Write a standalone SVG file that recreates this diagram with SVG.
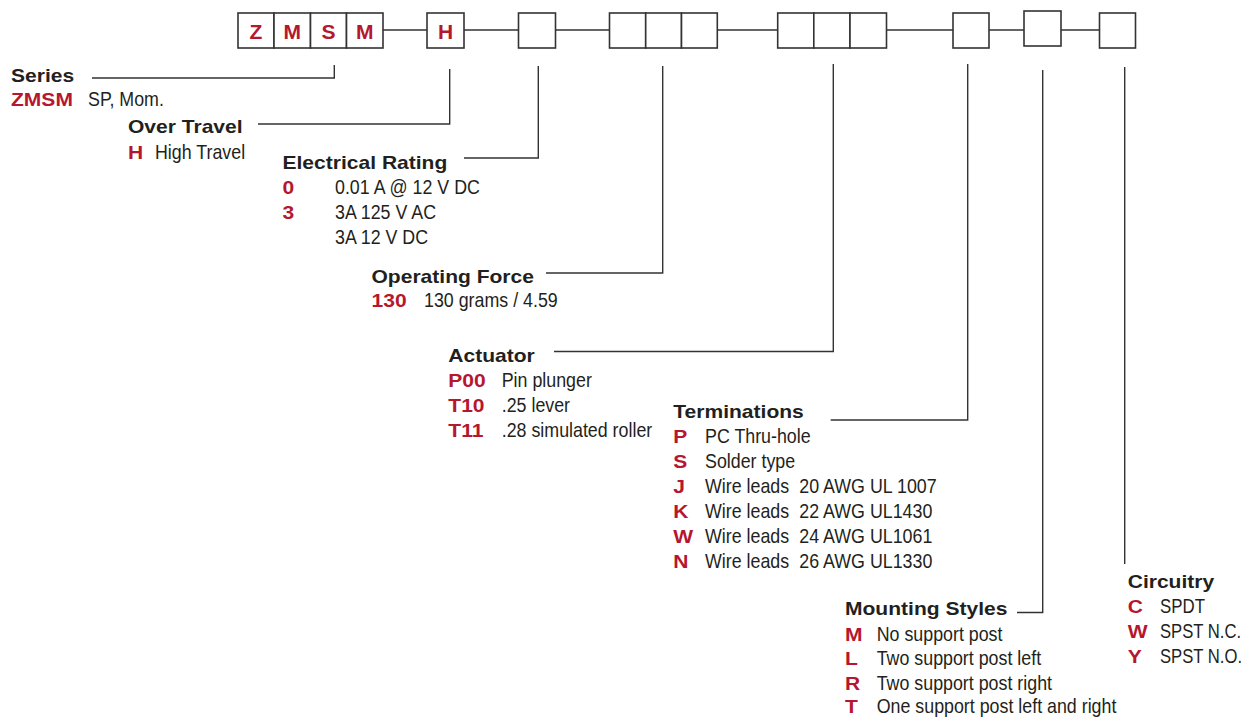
<svg xmlns="http://www.w3.org/2000/svg" width="1241" height="717" viewBox="0 0 1241 717">
<style>
.h{font-family:"Liberation Sans",Arial,sans-serif;font-weight:bold;font-size:18.8px;fill:#231f20}
.c{font-family:"Liberation Sans",Arial,sans-serif;font-weight:bold;font-size:18.8px;fill:#b5172f}
.t{font-family:"Liberation Sans",Arial,sans-serif;font-size:19.6px;fill:#231f20}
.bl{font-family:"Liberation Sans",Arial,sans-serif;font-weight:bold;font-size:21px;fill:#b5172f;text-anchor:middle}
.bx{fill:#fff;stroke:#333;stroke-width:1.6}
.ln{fill:none;stroke:#333;stroke-width:1.4}
</style>
<rect width="1241" height="717" fill="#fff"/>
<g id="connectors">
<path class="ln" d="M383,30H427M464,30H518.5M555.5,30H609.5M717.3,30H777.7M886.5,30H953M989,30H1024M1061,30H1099.5"/>
<path class="ln" d="M92,78H334.3V65"/>
<path class="ln" d="M258,124H449.7V69"/>
<path class="ln" d="M464,158H538.3V66"/>
<path class="ln" d="M546,273H662.7V66"/>
<path class="ln" d="M554,351.5H833.3V64"/>
<path class="ln" d="M830.7,420H967.7V64"/>
<path class="ln" d="M1017,612.5H1042.7V70"/>
<path class="ln" d="M1124.7,67V564"/>
</g>
<g id="box-series">
<rect class="bx" x="238" y="13" width="36" height="35"/>
<rect class="bx" x="274" y="13" width="36.5" height="35"/>
<rect class="bx" x="310.5" y="13" width="36" height="35"/>
<rect class="bx" x="346.5" y="13" width="36.5" height="35"/>
<text class="bl" x="256" y="38.5">Z</text>
<text class="bl" x="292.2" y="38.5">M</text>
<text class="bl" x="328.5" y="38.5">S</text>
<text class="bl" x="364.7" y="38.5">M</text>
</g>
<g id="box-overtravel">
<rect class="bx" x="427" y="13" width="37" height="35"/>
<text class="bl" x="445.5" y="38.5">H</text>
</g>
<g id="box-electrical">
<rect class="bx" x="518.5" y="13" width="37" height="35"/>
</g>
<g id="box-force">
<rect class="bx" x="609.5" y="13" width="36.2" height="35"/>
<rect class="bx" x="645.7" y="13" width="35.8" height="35"/>
<rect class="bx" x="681.5" y="13" width="35.8" height="35"/>
</g>
<g id="box-actuator">
<rect class="bx" x="777.7" y="13" width="36.1" height="35"/>
<rect class="bx" x="813.8" y="13" width="36.2" height="35"/>
<rect class="bx" x="850" y="13" width="36.5" height="35"/>
</g>
<g id="box-terminations">
<rect class="bx" x="953" y="13" width="36" height="35"/>
</g>
<g id="box-mounting">
<rect class="bx" x="1024" y="11" width="37" height="35"/>
</g>
<g id="box-circuitry">
<rect class="bx" x="1099.5" y="13" width="36" height="35"/>
</g>
<g id="legend-series">
<text class="h" transform="translate(11,82) scale(1.12,1)">Series</text>
<text class="c" transform="translate(11,106) scale(1.12,1)">ZMSM</text>
<text class="t" transform="translate(88,106) scale(0.91,1)">SP, Mom.</text>
</g>
<g id="legend-overtravel">
<text class="h" transform="translate(128,133) scale(1.12,1)">Over Travel</text>
<text class="c" transform="translate(128,159) scale(1.12,1)">H</text>
<text class="t" transform="translate(155,159) scale(0.91,1)">High Travel</text>
</g>
<g id="legend-electrical">
<text class="h" transform="translate(282.5,168.5) scale(1.12,1)">Electrical Rating</text>
<text class="c" transform="translate(282.5,194) scale(1.12,1)">0</text>
<text class="t" transform="translate(335,194) scale(0.91,1)">0.01 A @ 12 V DC</text>
<text class="c" transform="translate(282.5,219) scale(1.12,1)">3</text>
<text class="t" transform="translate(335,219) scale(0.91,1)">3A 125 V AC</text>
<text class="t" transform="translate(335,244) scale(0.91,1)">3A 12 V DC</text>
</g>
<g id="legend-force">
<text class="h" transform="translate(371.5,282.5) scale(1.12,1)">Operating Force</text>
<text class="c" transform="translate(371.5,306.5) scale(1.12,1)">130</text>
<text class="t" transform="translate(424,306.5) scale(0.91,1)">130 grams / 4.59</text>
</g>
<g id="legend-actuator">
<text class="h" transform="translate(448.3,361.5) scale(1.12,1)">Actuator</text>
<text class="c" transform="translate(448.3,386.5) scale(1.12,1)">P00</text>
<text class="t" transform="translate(501.7,386.5) scale(0.91,1)">Pin plunger</text>
<text class="c" transform="translate(448.3,411.5) scale(1.12,1)">T10</text>
<text class="t" transform="translate(501.7,411.5) scale(0.91,1)">.25 lever</text>
<text class="c" transform="translate(448.3,436.5) scale(1.12,1)">T11</text>
<text class="t" transform="translate(501.7,436.5) scale(0.91,1)">.28 simulated roller</text>
</g>
<g id="legend-terminations">
<text class="h" transform="translate(673.3,418.3) scale(1.12,1)">Terminations</text>
<text class="c" transform="translate(673.3,443.3) scale(1.12,1)">P</text>
<text class="t" transform="translate(705,443.3) scale(0.91,1)">PC Thru-hole</text>
<text class="c" transform="translate(673.3,468.3) scale(1.12,1)">S</text>
<text class="t" transform="translate(705,468.3) scale(0.91,1)">Solder type</text>
<text class="c" transform="translate(673.3,493.3) scale(1.12,1)">J</text>
<text class="t" transform="translate(705,493.3) scale(0.91,1)">Wire leads</text>
<text class="t" transform="translate(799.3,493.3) scale(0.91,1)">20 AWG UL 1007</text>
<text class="c" transform="translate(673.3,518.3) scale(1.12,1)">K</text>
<text class="t" transform="translate(705,518.3) scale(0.91,1)">Wire leads</text>
<text class="t" transform="translate(799.3,518.3) scale(0.91,1)">22 AWG UL1430</text>
<text class="c" transform="translate(673.3,543.3) scale(1.12,1)">W</text>
<text class="t" transform="translate(705,543.3) scale(0.91,1)">Wire leads</text>
<text class="t" transform="translate(799.3,543.3) scale(0.91,1)">24 AWG UL1061</text>
<text class="c" transform="translate(673.3,568.3) scale(1.12,1)">N</text>
<text class="t" transform="translate(705,568.3) scale(0.91,1)">Wire leads</text>
<text class="t" transform="translate(799.3,568.3) scale(0.91,1)">26 AWG UL1330</text>
</g>
<g id="legend-mounting">
<text class="h" transform="translate(845,615) scale(1.12,1)">Mounting Styles</text>
<text class="c" transform="translate(845,640.5) scale(1.12,1)">M</text>
<text class="t" transform="translate(876.7,640.5) scale(0.91,1)">No support post</text>
<text class="c" transform="translate(845,665) scale(1.12,1)">L</text>
<text class="t" transform="translate(876.7,665) scale(0.91,1)">Two support post left</text>
<text class="c" transform="translate(845,689.5) scale(1.12,1)">R</text>
<text class="t" transform="translate(876.7,689.5) scale(0.91,1)">Two support post right</text>
<text class="c" transform="translate(845,712.5) scale(1.12,1)">T</text>
<text class="t" transform="translate(876.7,712.5) scale(0.91,1)">One support post left and right</text>
</g>
<g id="legend-circuitry">
<text class="h" transform="translate(1127.7,588.3) scale(1.12,1)">Circuitry</text>
<text class="c" transform="translate(1127.7,613.3) scale(1.12,1)">C</text>
<text class="t" transform="translate(1160,613.3) scale(0.86,1)">SPDT</text>
<text class="c" transform="translate(1127.7,638.3) scale(1.12,1)">W</text>
<text class="t" transform="translate(1160,638.3) scale(0.85,1)">SPST N.C.</text>
<text class="c" transform="translate(1127.7,663.3) scale(1.12,1)">Y</text>
<text class="t" transform="translate(1160,663.3) scale(0.85,1)">SPST N.O.</text>
</g>
</svg>
